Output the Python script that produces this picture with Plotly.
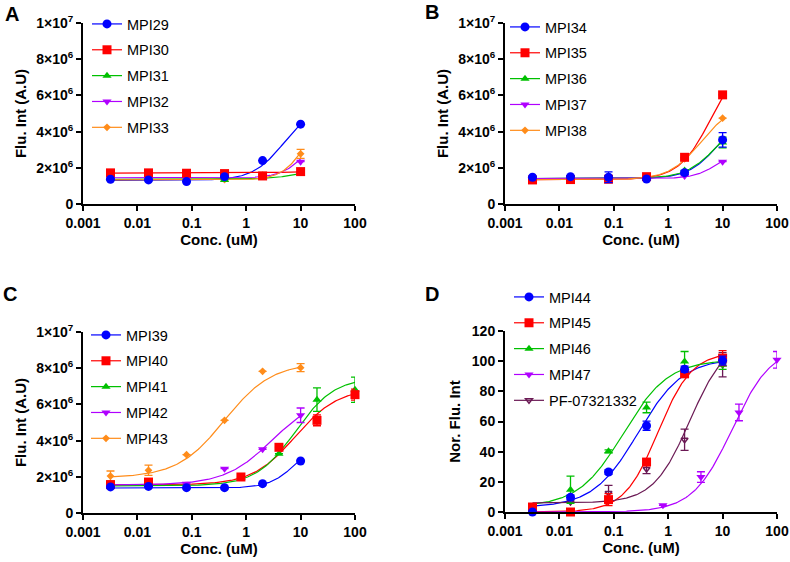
import numpy as np
import plotly.graph_objects as go

# ---------------- data ----------------
conc6 = [0.0032, 0.016, 0.08, 0.4, 2, 10]

# Panel A
a_names = ["MPI29", "MPI30", "MPI31", "MPI32", "MPI33"]
a_x = [conc6, conc6, conc6, conc6, conc6]
a_y = [
    [1.37e6, 1.33e6, 1.24e6, 1.51e6, 2.40e6, 4.41e6],
    [1.72e6, 1.72e6, 1.70e6, 1.68e6, 1.55e6, 1.79e6],
    [1.40e6, 1.38e6, 1.35e6, 1.33e6, 1.48e6, 1.70e6],
    [1.45e6, 1.44e6, 1.42e6, 1.45e6, 1.55e6, 2.34e6],
    [1.35e6, 1.34e6, 1.33e6, 1.35e6, 1.60e6, 2.77e6],
]
a_err = [
    [0, 0, 0, 0, 0, 0],
    [0, 0, 0, 0, 0, 0],
    [0, 0, 0, 0, 0, 0],
    [0, 0, 0, 0, 0, 0],
    [0, 0, 0, 0.1e6, 0, 0.25e6],
]
# fit parameters: bottom, top, EC50, hill, x-start, x-end
a_fit = [
    [1.30e6, 5.5e6, 5.0, 1.5, 0.0032, 10],
    [1.71e6, 1.80e6, 5.0, 1.0, 0.0032, 10],
    [1.36e6, 2.00e6, 10.0, 1.5, 0.0032, 10],
    [1.45e6, 4.00e6, 12.0, 2.0, 0.0032, 10],
    [1.33e6, 5.00e6, 12.0, 2.0, 0.0032, 10],
]

# Panel B
b_names = ["MPI34", "MPI35", "MPI36", "MPI37", "MPI38"]
b_x = [conc6, conc6, conc6, conc6, conc6]
b_y = [
    [1.48e6, 1.51e6, 1.48e6, 1.38e6, 1.73e6, 3.54e6],
    [1.33e6, 1.35e6, 1.37e6, 1.51e6, 2.58e6, 6.03e6],
    [1.42e6, 1.42e6, 1.40e6, 1.40e6, 1.85e6, 3.40e6],
    [1.40e6, 1.40e6, 1.38e6, 1.40e6, 1.55e6, 2.34e6],
    [1.35e6, 1.36e6, 1.37e6, 1.45e6, 2.50e6, 4.74e6],
]
b_err = [
    [0, 0, 0.3e6, 0, 0.1e6, 0.4e6],
    [0, 0, 0, 0, 0, 0],
    [0, 0, 0, 0, 0, 0.3e6],
    [0, 0, 0, 0, 0, 0],
    [0, 0, 0, 0, 0, 0],
]
b_fit = [
    [1.40e6, 5.0e6, 8.0, 1.6, 0.0032, 10],
    [1.35e6, 8.0e6, 6.0, 1.5, 0.0032, 10],
    [1.40e6, 5.0e6, 8.0, 1.5, 0.0032, 10],
    [1.40e6, 3.0e6, 8.0, 2.0, 0.0032, 10],
    [1.35e6, 5.5e6, 4.0, 1.5, 0.0032, 10],
]

# Panel C
c_names = ["MPI39", "MPI40", "MPI41", "MPI42", "MPI43"]
c_x = [
    conc6,
    [0.0032, 0.016, 0.8, 4, 20, 100],
    [0.0032, 0.016, 0.8, 4, 20, 100],
    conc6,
    conc6,
]
c_y = [
    [1.44e6, 1.47e6, 1.40e6, 1.40e6, 1.62e6, 2.87e6],
    [1.57e6, 1.71e6, 1.99e6, 3.63e6, 5.12e6, 6.54e6],
    [1.50e6, 1.55e6, 1.95e6, 3.28e6, 6.26e6, 6.81e6],
    [1.50e6, 1.55e6, 1.62e6, 2.45e6, 3.52e6, 5.40e6],
    [2.04e6, 2.36e6, 3.22e6, 5.12e6, 7.83e6, 8.03e6],
]
c_err = [
    [0, 0, 0, 0, 0, 0],
    [0.15e6, 0.15e6, 0, 0, 0.3e6, 0.3e6],
    [0, 0, 0, 0, 0.65e6, 0.7e6],
    [0, 0, 0, 0, 0, 0.4e6],
    [0.28e6, 0.28e6, 0, 0, 0, 0.22e6],
]
c_fit = [
    [1.38e6, 4.0e6, 8.0, 1.8, 0.0032, 10],
    [1.55e6, 6.9e6, 8.0, 1.1, 0.0032, 100],
    [1.50e6, 7.5e6, 8.0, 1.2, 0.0032, 100],
    [1.55e6, 6.5e6, 3.0, 1.0, 0.0032, 10],
    [1.95e6, 8.3e6, 0.4, 1.0, 0.0032, 10],
]

# Panel D
d_names = ["MPI44", "MPI45", "MPI46", "MPI47", "PF-07321332"]
d_x = [
    conc6,
    conc6,
    conc6,
    [0.8, 4, 20, 100],
    [0.016, 0.08, 0.4, 2, 10],
]
d_y = [
    [0, 9.7, 26.5, 57.2, 94.7, 100.4],
    [3.3, 0, 8.2, 33.1, 91.6, 102.0],
    [3.0, 14.8, 40.2, 69.3, 99.8, 97.6],
    [4.4, 23.2, 66.0, 100.9],
    [6.6, 12.6, 28.5, 47.9, 97.6],
]
d_err = [
    [0, 1.5, 1.5, 3, 2, 3],
    [0, 0, 4, 2, 2, 5],
    [0, 9, 1, 3.5, 6.6, 3],
    [0, 3.5, 5.5, 5.5],
    [0, 5, 3, 7, 8],
]
d_fit = [
    [3.0, 102.0, 0.28, 1.05, 0.0032, 10],
    [0.0, 106.0, 0.65, 1.4, 0.0032, 10],
    [3.5, 101.0, 0.15, 1.05, 0.0032, 10],
    [0.0, 110.0, 15.0, 1.2, 0.0032, 100],
    [6.0, 115.0, 2.5, 1.3, 0.0032, 10],
]

x_ticks = [0.001, 0.01, 0.1, 1, 10, 100]
x_ticktext = ["0.001", "0.01", "0.1", "1", "10", "100"]
flu_ticks = [0, 2e6, 4e6, 6e6, 8e6, 1e7]
flu_ticktext = ["0", "2×10<sup>6</sup>", "4×10<sup>6</sup>", "6×10<sup>6</sup>",
                "8×10<sup>6</sup>", "1×10<sup>7</sup>"]
nor_ticks = [0, 20, 40, 60, 80, 100, 120]

# ---------------- styles ----------------
colors5 = ["#0000FF", "#FF0000", "#00C000", "#B000FF", "#FF8C1A"]
colorsD = ["#0000FF", "#FF0000", "#00C000", "#B000FF", "#6B1A55"]
symbols5 = ["circle", "square", "triangle-up", "triangle-down", "diamond"]
symbolsD = ["circle", "square", "triangle-up", "triangle-down", "triangle-down-open"]
sizes5 = [9, 9, 8, 8, 6]
FONT = "Arial, 'Liberation Sans', Helvetica, sans-serif"

W, H = 790, 562


def hill(p, xs):
    b, t, ec, h = p[0], p[1], p[2], p[3]
    return b + (t - b) / (1 + (ec / xs) ** h)


fig = go.Figure()

panels = [
    (a_names, a_x, a_y, a_err, a_fit, colors5, symbols5, "x", "y", "legend"),
    (b_names, b_x, b_y, b_err, b_fit, colors5, symbols5, "x2", "y2", "legend2"),
    (c_names, c_x, c_y, c_err, c_fit, colors5, symbols5, "x3", "y3", "legend3"),
    (d_names, d_x, d_y, d_err, d_fit, colorsD, symbolsD, "x4", "y4", "legend4"),
]

for names, xs, ys, errs, fits, cols, syms, xa, ya, lg in panels:
    # curves
    for i in range(len(names)):
        p = fits[i]
        cx = np.logspace(np.log10(p[4]), np.log10(p[5]), 200)
        fig.add_trace(go.Scatter(
            x=cx, y=hill(p, cx), mode="lines", xaxis=xa, yaxis=ya,
            line=dict(color=cols[i], width=1.2), showlegend=False,
            hoverinfo="skip", cliponaxis=False))
    # points (draw last series first so first is on top)
    for i in reversed(range(len(names))):
        sz = sizes5[i]
        mk = dict(color=cols[i], symbol=syms[i], size=sz,
                  line=dict(color=cols[i], width=1.5 if "open" in syms[i] else 0))
        fig.add_trace(go.Scatter(
            x=xs[i], y=ys[i], mode="markers", xaxis=xa, yaxis=ya,
            marker=mk, showlegend=False, cliponaxis=False,
            error_y=dict(type="data", array=errs[i], visible=True,
                         color=cols[i], thickness=1.3, width=4)))
    # legend entries
    for i in range(len(names)):
        sz = sizes5[i]
        mk = dict(color=cols[i], symbol=syms[i], size=sz,
                  line=dict(color=cols[i], width=1.5 if "open" in syms[i] else 0))
        fig.add_trace(go.Scatter(
            x=[None], y=[None], mode="lines+markers", xaxis=xa, yaxis=ya,
            name=names[i], legend=lg, legendgroup=lg + str(i),
            marker=mk, line=dict(color=cols[i], width=1.2)))


def px_dom_x(a, b):
    return [a / W, b / W]


def px_dom_y(top, bottom):
    return [(H - bottom) / H, (H - top) / H]


axis_common = dict(showline=True, linecolor="black", linewidth=2, ticks="outside",
                   ticklen=5, tickwidth=2, tickcolor="black", showgrid=False,
                   zeroline=False, automargin=False,
                   tickfont=dict(family=FONT, size=14, color="black", weight="bold"),
                   title_font=dict(family=FONT, size=15, color="black", weight="bold"))

def xaxis(dom, anchor, title):
    d = dict(axis_common)
    d.update(type="log", range=[-3, 2], domain=dom, anchor=anchor,
             tickmode="array", tickvals=x_ticks, ticktext=x_ticktext)
    if title:
        d.update(title=dict(text="Conc. (uM)", standoff=4))
    return d


def yaxis(dom, anchor, nor=False):
    d = dict(axis_common)
    if nor:
        d.update(range=[0, 120], tickmode="array", tickvals=nor_ticks,
                 title=dict(text="Nor. Flu. Int", standoff=8))
    else:
        d.update(range=[0, 1e7], tickmode="array", tickvals=flu_ticks,
                 ticktext=flu_ticktext, title=dict(text="Flu. Int (A.U)", standoff=6))
    d.update(domain=dom, anchor=anchor)
    return d


leg_common = dict(font=dict(family=FONT, size=14.5, color="black"),
                  bgcolor="rgba(0,0,0,0)", xanchor="left", yanchor="top",
                  tracegroupgap=4, itemwidth=30)

fig.update_layout(
    width=W, height=H, margin=dict(l=0, r=0, t=0, b=0),
    paper_bgcolor="white", plot_bgcolor="white",
    xaxis=xaxis(px_dom_x(83, 355), "y", True),
    yaxis=yaxis(px_dom_y(23, 204), "x"),
    xaxis2=xaxis(px_dom_x(505, 777), "y2", True),
    yaxis2=yaxis(px_dom_y(23, 204), "x2"),
    xaxis3=xaxis(px_dom_x(83, 355), "y3", True),
    yaxis3=yaxis(px_dom_y(332, 513), "x3"),
    xaxis4=xaxis(px_dom_x(505, 777), "y4", True),
    yaxis4=yaxis(px_dom_y(331, 512), "x4", nor=True),
    legend=dict(leg_common, x=87 / W, y=1 - 8 / H),
    legend2=dict(leg_common, x=505 / W, y=1 - 11 / H),
    legend3=dict(leg_common, x=86 / W, y=1 - 319 / H),
    legend4=dict(leg_common, x=509 / W, y=1 - 281 / H),
    showlegend=True,
)

for txt, x, y in [("A", 12, 14), ("B", 432, 12), ("C", 10, 294), ("D", 432, 294)]:
    fig.add_annotation(text="<b>" + txt + "</b>", x=x / W, y=1 - y / H,
                       xref="paper", yref="paper", showarrow=False,
                       xanchor="center", yanchor="middle",
                       font=dict(family=FONT, size=20, color="black"))

fig.write_html("out.html", config={"displayModeBar": False},
               post_script="document.body.style.margin='0';document.body.style.padding='0';")
